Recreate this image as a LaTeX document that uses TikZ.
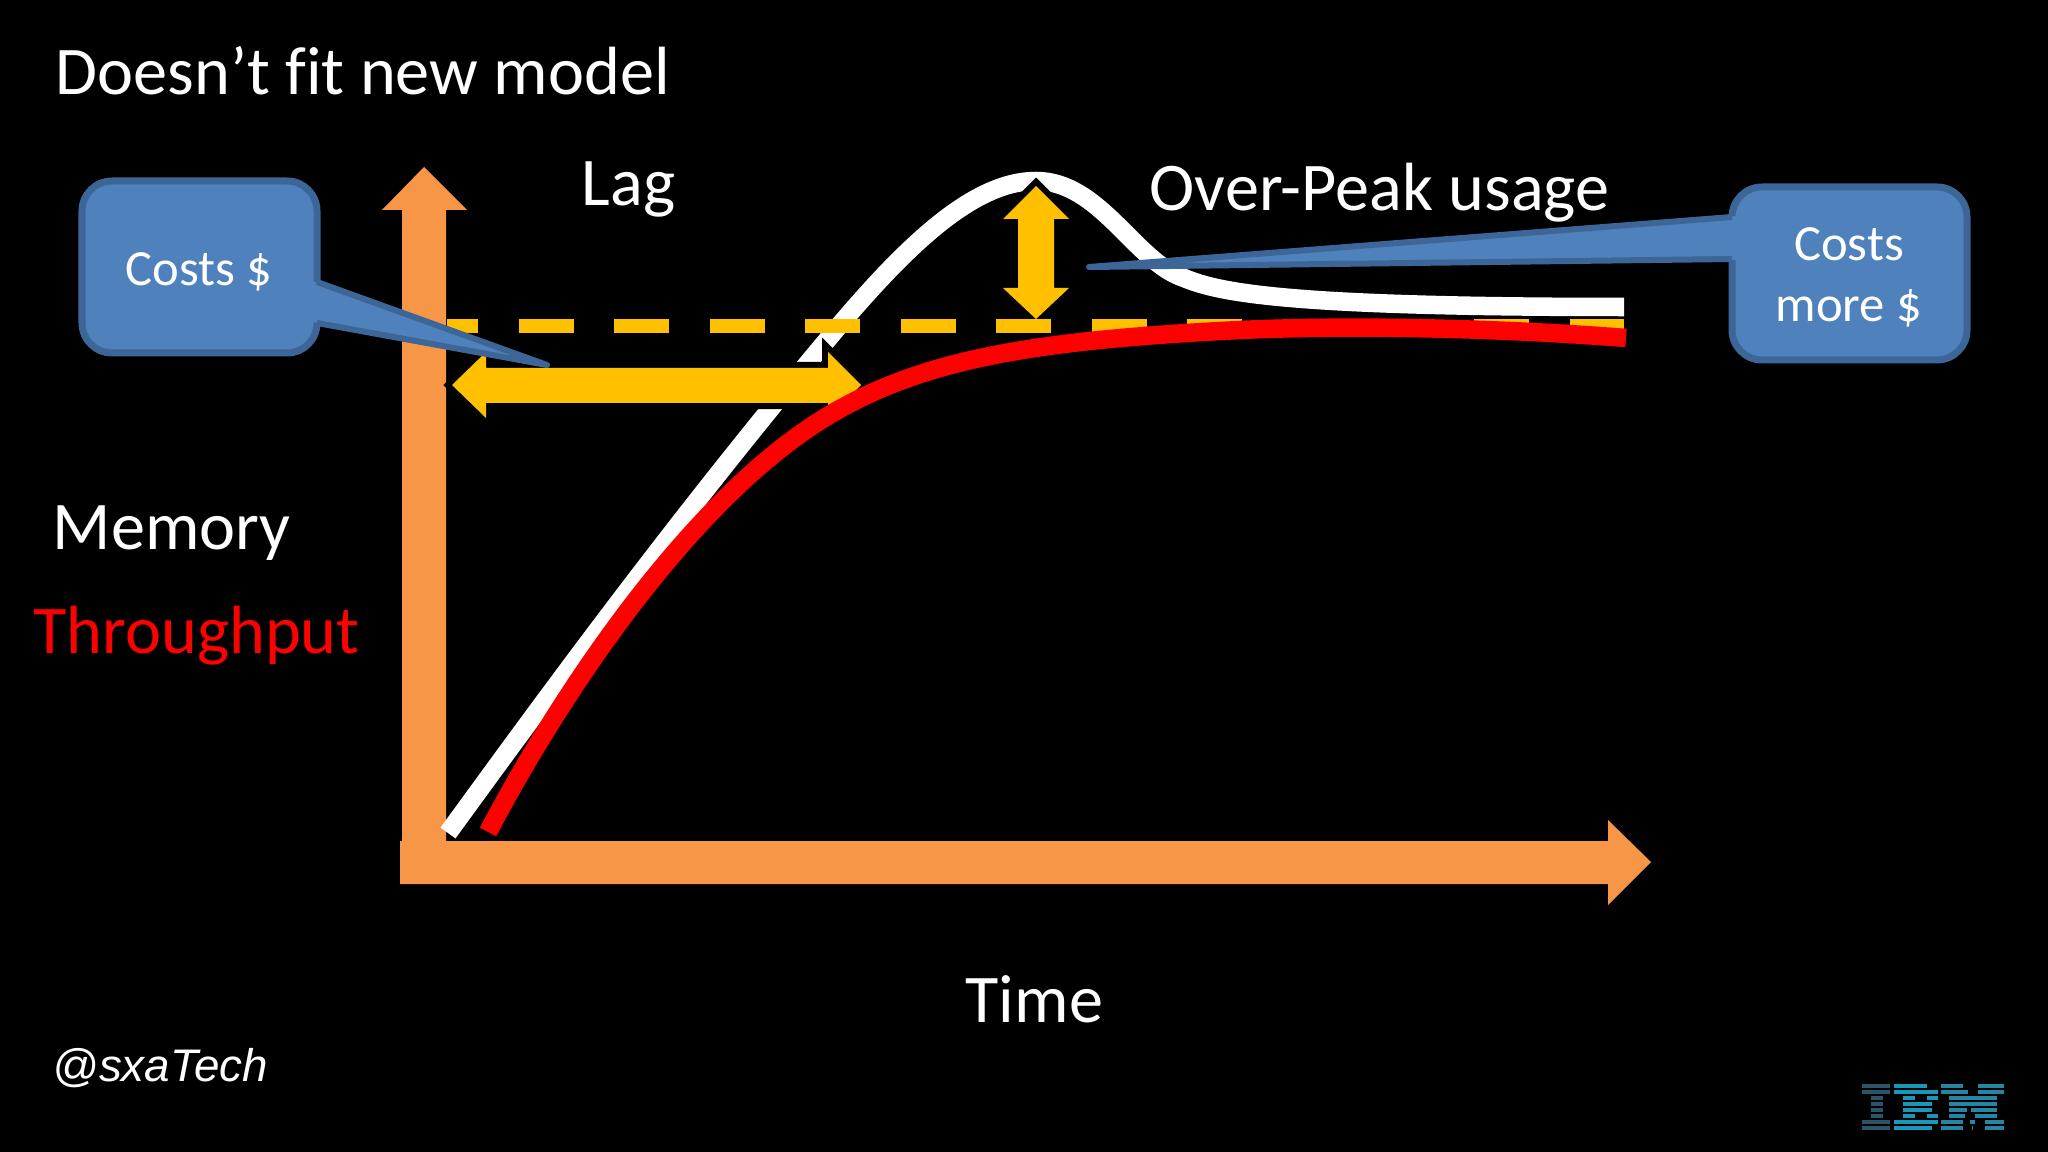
\documentclass[tikz,border=0pt]{standalone}
\usepackage{fontspec}
\setmainfont[Ligatures=NoCommon]{Carlito}
\newfontfamily\handlefont{Liberation Sans}
\definecolor{axisorange}{HTML}{F79646}
\definecolor{gapgold}{HTML}{FFC000}
\definecolor{calloutblue}{HTML}{4F81BD}
\definecolor{calloutedge}{HTML}{3D6698}
\definecolor{logodark}{HTML}{2B5468}
\definecolor{logocyan}{HTML}{1797BB}
\definecolor{logoblue}{HTML}{2585A5}
\tikzset{
  bigtext/.style={text=white,inner sep=0pt,anchor=base west,font=\fontsize{19.4}{22}\selectfont},
  boxtext/.style={text=white,inner sep=0pt,anchor=base,font=\fontsize{14.4}{16}\selectfont},
  curveline/.style={line width=0.185cm,line join=round},
  gaparrow/.style={fill=gapgold,preaction={draw=black,line width=0.12cm,line join=miter}},
  callout/.style={fill=calloutblue,draw=calloutedge,line width=0.07cm,rounded corners=0.3cm},
  pointeredge/.style={draw=calloutedge,line width=0.06cm,line join=round},
}
\begin{document}
\begin{tikzpicture}[x=0.01cm,y=-0.01cm]
  %background
  \fill[black] (0,0) rectangle (2048,1152);

  %axes
  \fill[axisorange] (402,841) -- (402,210) -- (382,210) -- (424,167) -- (467,210) -- (446,210) -- (446,841) -- cycle;
  \fill[axisorange] (400,841) -- (1608,841) -- (1608,820) -- (1651,862) -- (1608,905) -- (1608,884) -- (400,884) -- cycle;

  %memory
  \draw[white,curveline] (448,833) .. controls (552,690) and (680,515) .. (838,327)
    .. controls (910,242) and (975,181) .. (1036,181)
    .. controls (1100,181) and (1135,262) .. (1184,278)
    .. controls (1220,293) and (1290,307) .. (1624,307);

  %gaps
  \path[gaparrow] (452,385) -- (486,352) -- (486,368) -- (828,368) -- (828,352) -- (861,385) -- (828,418) -- (828,403) -- (486,403) -- (486,418) -- cycle;
  \path[gaparrow] (1036,186) -- (1069,219) -- (1054,219) -- (1054,288) -- (1069,288) -- (1036,319) -- (1003,288) -- (1018,288) -- (1018,219) -- (1003,219) -- cycle;

  %target
  \draw[gapgold,line width=0.13cm,dash pattern=on 5.5mm off 4.05mm,dash phase=2.4mm] (447,326) -- (1624,326);

  %throughput
  \draw[red,curveline] (488,832) .. controls (560,695) and (695,490) .. (838,410)
    .. controls (930,358) and (1040,340) .. (1240,330)
    .. controls (1350,325) and (1500,328) .. (1626,338);

  %callouts
  \draw[callout] (82,181) rectangle (317,353);
  \fill[calloutblue] (312,281) -- (547,365) -- (312,322) -- cycle;
  \draw[pointeredge] (317,282) -- (547,365) -- (317,323);
  \draw[callout] (1732,187) rectangle (1967,360);
  \fill[calloutblue] (1737,216) -- (1089,267) -- (1737,260) -- cycle;
  \draw[pointeredge] (1732,217) -- (1089,267) -- (1732,259);

  %labels
  \node[bigtext] (title) at (55,95) {Doesn’t fit new model};
  \node[bigtext] (lag) at (581,206) {Lag};
  \node[bigtext] (overpeak) at (1149,211) {Over-Peak usage};
  \node[bigtext] (memory) at (52,550) {Memory};
  \node[bigtext,text=red] (throughput) at (33,653) {Throughput};
  \node[bigtext] (time) at (965,1022) {Time};
  \node[boxtext] (costs) at (199,286) {Costs \$};
  \node[boxtext] (costsmore) at (1849,261) {Costs};
  \node[boxtext] (moremoney) at (1849,322) {more \$};
  \node[bigtext,font=\fontsize{13}{15}\handlefont\itshape] (handle) at (52,1081) {@sxaTech};

  %logo
  \foreach \xa/\xb/\row in {1862/1890/0,1862/1890/1,1871/1883/2,1871/1883/3,1871/1883/4,1871/1883/5,1862/1890/6,1862/1890/7}
    \fill[logodark] (\xa,1084+6*\row) rectangle (\xb,1088+6*\row);
  \foreach \xa/\xb/\row in {1894/1927/0,1894/1938/1,1903/1915/2,1927/1938/2,1903/1932/3,1903/1932/4,1903/1915/5,1927/1938/5,1894/1938/6,1894/1932/7}
    \fill[logocyan] (\xa,1084+6*\row) rectangle (\xb,1088+6*\row);
  \foreach \xa/\xb/\row in {1941/1963/0,1978/2004/0,1941/1968/1,1978/2004/1,1949/1997/2,1949/1997/3,1949/1967/4,1971/1997/4,1949/1965/5,1975/1997/5,1941/1963/6,1970/1975/6,1985/2004/6,1941/1963/7,1972/1973/7,1985/2004/7}
    \fill[logoblue] (\xa,1084+6*\row) rectangle (\xb,1088+6*\row);
\end{tikzpicture}
\end{document}
